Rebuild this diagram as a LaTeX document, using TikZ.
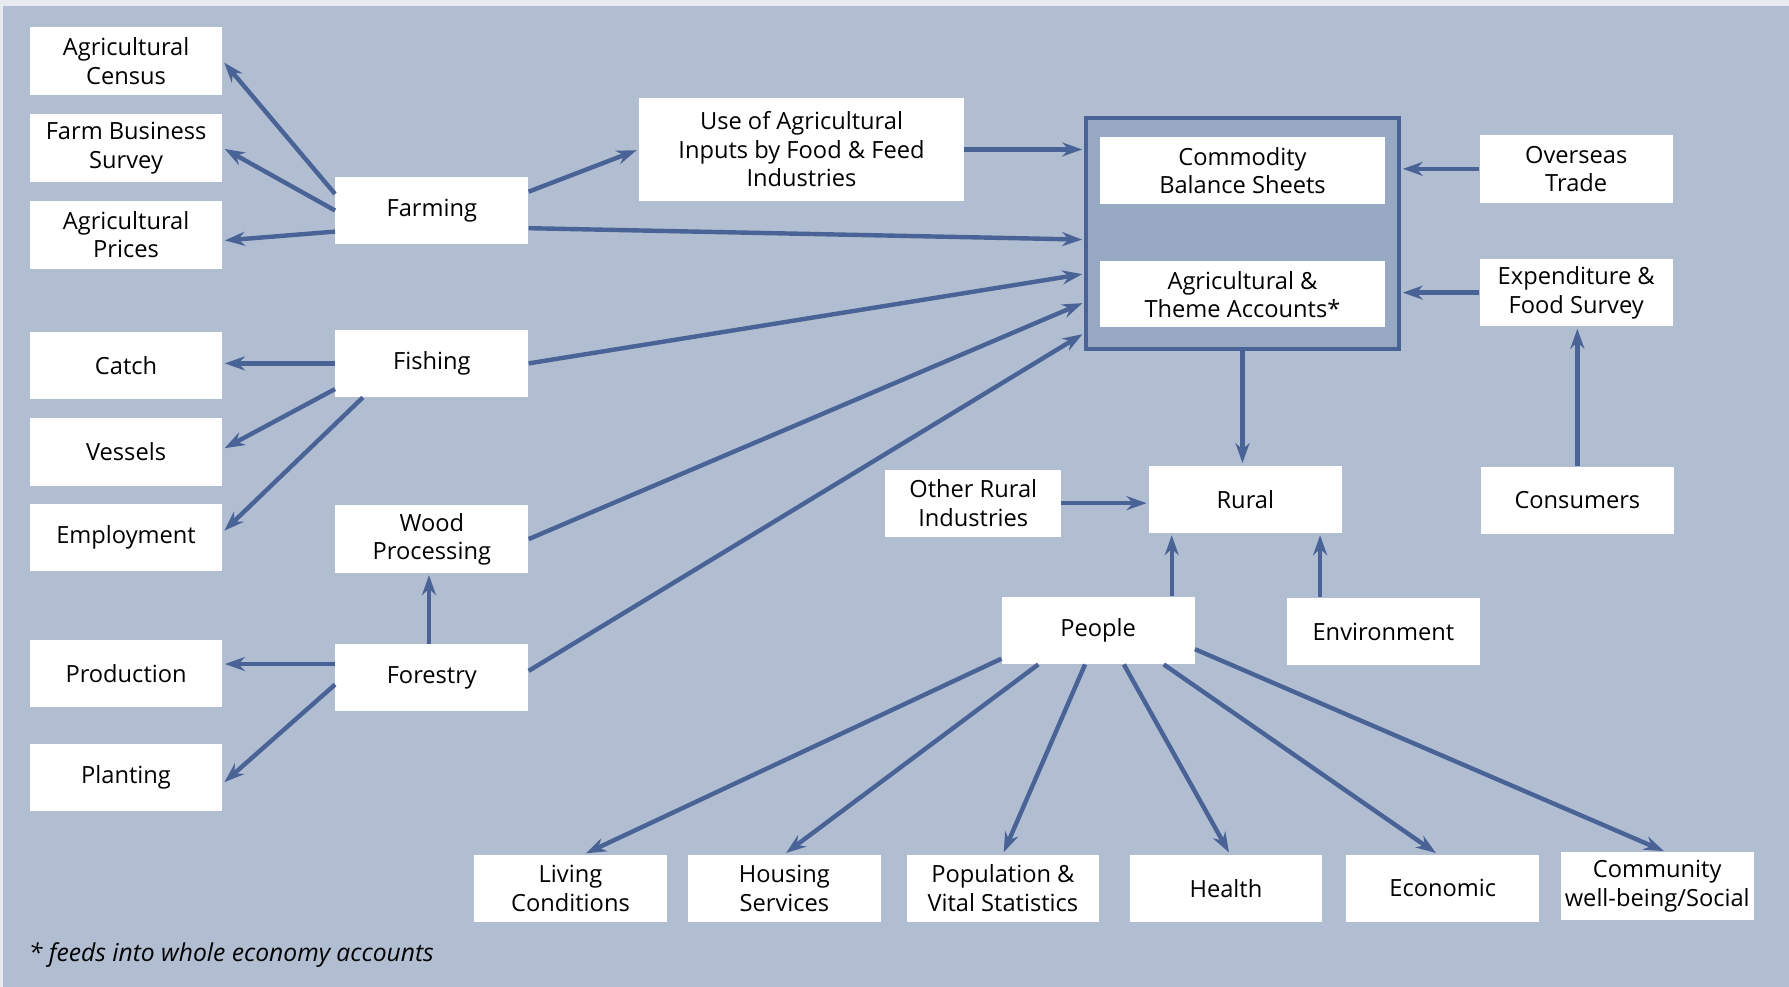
\documentclass[tikz,border=0pt]{standalone}
\usepackage{fontspec}
\setmainfont{Open Sans}
\usetikzlibrary{arrows.meta, positioning, calc}
\definecolor{panelblue}{HTML}{B1BDD1}
\definecolor{edgegrey}{HTML}{E7EAEF}
\definecolor{linkblue}{HTML}{4A6397}
\definecolor{accfill}{HTML}{97A8C3}

\begin{document}
\begin{tikzpicture}[x=0.02cm, y=-0.02cm, >={Stealth[length=10pt, width=7pt]}, font=\fontsize{11.8}{14.2}\selectfont]
  \tikzstyle{srcbox}=[fill=white, align=center, minimum width=3.38cm, minimum height=1.18cm, inner sep=0pt]
  \tikzstyle{link}=[->, draw=linkblue, line width=2.2pt, shorten >=1pt]

  % background panel
  \fill[edgegrey] (0,0) rectangle (1568,865);
  \fill[panelblue] (3,5) rectangle (1568,865);
  \useasboundingbox (0,0) rectangle (1568,865);

  % left column: data sources
  \node[srcbox] (census) at (110.5,53.5) {Agricultural\\Census};
  \node[srcbox, below=0.33cm of census] (fbs) {Farm Business\\Survey};
  \node[srcbox, below=0.33cm of fbs] (prices) {Agricultural\\Prices};
  \node[srcbox] (catch) at (110.5,320.5) {Catch};
  \node[srcbox, below=0.32cm of catch] (vessels) {Vessels};
  \node[srcbox, below=0.3cm of vessels] (employ) {Employment};
  \node[srcbox] (production) at (110.5,590.5) {Production};
  \node[srcbox, below=0.62cm of production] (planting) {Planting};

  % sector column
  \node[srcbox] (farming) at (378.5,184.5) {Farming};
  \node[srcbox] (fishing) at (378.5,318.5) {Fishing};
  \node[srcbox] (wood) at (378.5,472.5) {Wood\\Processing};
  \node[srcbox] (forestry) at (378.5,594) {Forestry};
  \node[srcbox, minimum width=5.7cm, minimum height=1.8cm] (use) at (702.5,131) {Use of Agricultural\\Inputs by Food \& Feed\\Industries};

  % accounts block
  \node[draw=linkblue, line width=2pt, fill=accfill, minimum width=5.48cm, minimum height=4.06cm, inner sep=0pt] (accounts) at (1089,204.5) {};
  \node[srcbox, minimum width=5cm] (cbs) at (1089,149.5) {Commodity\\Balance Sheets};
  \node[srcbox, minimum width=5cm, minimum height=1.16cm] (theme) at (1089,258) {Agricultural \&\\Theme Accounts*};

  % right side and rural
  \node[srcbox] (trade) at (1381.5,148) {Overseas\\Trade};
  \node[srcbox] (expend) at (1381.5,256.5) {Expenditure \&\\Food Survey};
  \node[srcbox] (consumers) at (1382.5,438.5) {Consumers};
  \node[srcbox] (rural) at (1091.5,437.5) {Rural};
  \node[srcbox, minimum width=3.08cm] (otherrural) at (853,441) {Other Rural\\Industries};
  \node[srcbox] (people) at (962.5,552.5) {People};
  \node[srcbox] (environment) at (1212.5,553.5) {Environment};

  % outcome row
  \node[srcbox] (living) at (500,778.5) {Living\\Conditions};
  \node[srcbox] (housing) at (687.5,778.5) {Housing\\Services};
  \node[srcbox] (population) at (879,778.5) {Population \&\\Vital Statistics};
  \node[srcbox] (health) at (1074.5,778.5) {Health};
  \node[srcbox] (economic) at (1264.5,778.5) {Economic};
  \node[srcbox] (community) at (1452.5,776.5) {Community\\well-being/Social};

  \node[anchor=west, inner sep=0pt, font=\fontsize{12.3}{14.2}\selectfont\itshape] (note) at (25,837) {* feeds into whole economy accounts};

  % farming links
  \draw[link] ([yshift=0.29cm]farming.west) -- (census.east);
  \draw[link] (farming.west) -- (fbs.east);
  \draw[link] ([yshift=-0.37cm]farming.west) -- ([yshift=-0.1cm]prices.east);
  \draw[link] ([yshift=0.33cm]farming.east) -- (use.west);
  \draw[link] ([yshift=-0.31cm]farming.east) -- ([yshift=-0.11cm]accounts.west);
  \draw[link] (use.east) -- (use.east -| accounts.west);

  % fishing links
  \draw[link] (fishing.west) -- (fishing.west -| catch.east);
  \draw[link] ([yshift=-0.45cm]fishing.west) -- ([yshift=0.05cm]vessels.east);
  \draw[link] ([xshift=-1.21cm]fishing.south) -- ([yshift=0.09cm]employ.east);
  \draw[link] (fishing.east) -- ([yshift=-0.71cm]accounts.west);

  % forestry links
  \draw[link] (wood.east) -- ([yshift=-1.21cm]accounts.west);
  \draw[link] ([yshift=0.12cm]forestry.east) -- ([yshift=-1.75cm]accounts.west);
  \draw[link] ([xshift=-0.05cm]forestry.north) -- ([xshift=-0.05cm]wood.south);
  \draw[link] ([yshift=0.24cm]forestry.west) -- ([yshift=0.24cm]forestry.west -| production.east);
  \draw[link] ([yshift=-0.12cm]forestry.west) -- ([yshift=-0.11cm]planting.east);

  % right side links
  \draw[link] (trade.west) -- (trade.west -| accounts.east);
  \draw[link] (expend.west) -- (expend.west -| accounts.east);
  \draw[link] (consumers.north) -- (consumers.north |- expend.south);
  \draw[link] (accounts.south) -- (accounts.south |- rural.north);
  \draw[link] (otherrural.east) -- (otherrural.east -| rural.west);
  \draw[link] ([xshift=1.29cm]people.north) -- ([xshift=1.29cm]people.north |- rural.south);
  \draw[link] ([xshift=-1.11cm]environment.north) -- ([xshift=-1.11cm]environment.north |- rural.south);

  % people links
  \draw[link] ([yshift=0.1cm]people.south west) -- ([xshift=0.24cm]living.north);
  \draw[link] ([xshift=-1.05cm]people.south) -- (housing.north);
  \draw[link] ([xshift=-0.23cm]people.south) -- (population.north);
  \draw[link] ([xshift=0.45cm]people.south) -- ([xshift=0.07cm]health.north);
  \draw[link] ([xshift=1.15cm]people.south) -- ([xshift=-0.09cm]economic.north);
  \draw[link] ([yshift=-0.33cm]people.east) -- ([xshift=0.15cm]community.north);
\end{tikzpicture}
\end{document}
